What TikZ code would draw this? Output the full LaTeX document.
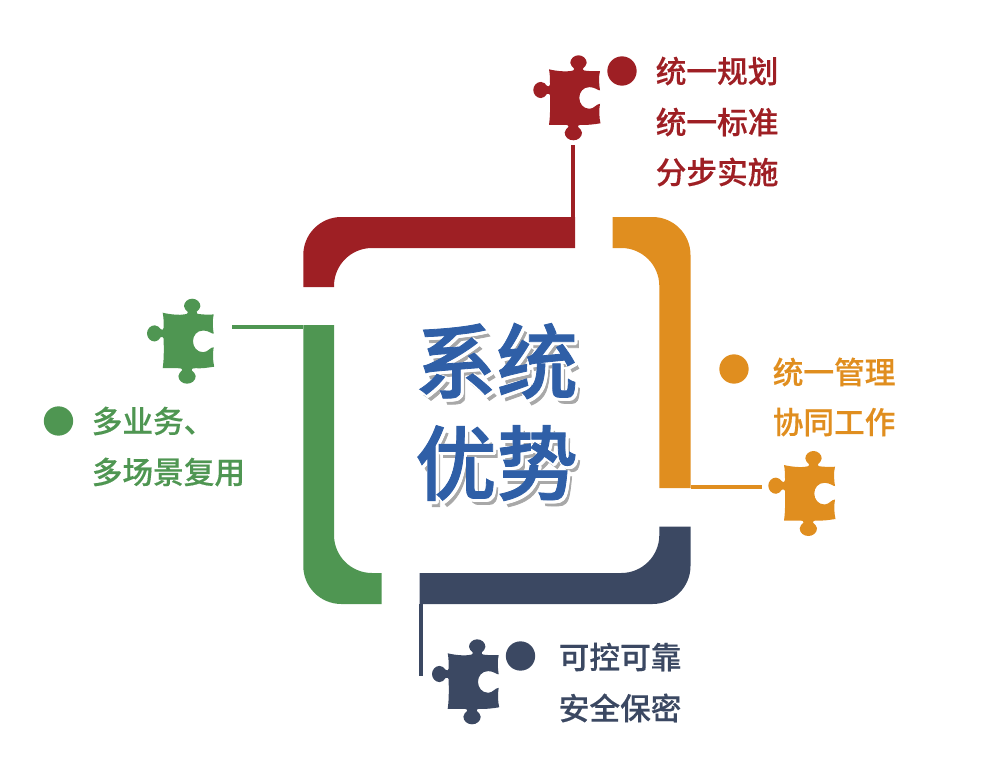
\documentclass[tikz,border=0pt]{standalone}
\usepackage{fontspec}
\setmainfont{Noto Sans CJK SC}
\newfontfamily\cjkb[FakeBold=0.35]{Noto Sans CJK SC Medium}
\newfontfamily\cjkt[FakeBold=1.0]{Noto Sans CJK SC Medium}
\definecolor{cred}{HTML}{9E1F24}
\definecolor{corange}{HTML}{E08E1F}
\definecolor{cgreen}{HTML}{4F9652}
\definecolor{cnavy}{HTML}{3B4862}
\definecolor{cblue}{HTML}{2F5FA7}
\definecolor{cshadow}{HTML}{A8A8A8}
\tikzset{
  lab/.style={font=\cjkb\fontsize{23}{28}\selectfont,anchor=west,inner sep=0pt},
  dotm/.style={circle,inner sep=0pt,minimum size=22pt},
  title/.style={font=\cjkt\fontsize{61}{72}\selectfont,inner sep=0pt,anchor=center},
  conn/.style={line width=3pt},
  puzzle/.pic={
    \fill (0,0) .. controls (8,2) and (18,2.5) .. (21.5,1.7)
      .. controls (25,1.5) and (25.5,0) .. (25,-1)
      .. controls (23.5,-2.5) and (21.3,-4) .. (21.3,-6.5)
      .. controls (21.3,-10.5) and (25,-14) .. (29.5,-14)
      .. controls (34,-14) and (37.7,-10.5) .. (37.7,-6.5)
      .. controls (37.7,-4) and (35.5,-2.5) .. (34,-1)
      .. controls (33.5,0) and (34,1.5) .. (37.5,1.5)
      .. controls (42,2) and (48,2) .. (51,1.7)
      .. controls (49.5,8) and (50,15) .. (51,21)
      .. controls (49.5,21.5) and (46,17.8) .. (40.5,17.8)
      .. controls (34,17.8) and (30.3,23) .. (30.3,28.5)
      .. controls (30.3,34) and (34,39.5) .. (40.5,39.5)
      .. controls (45,39.5) and (47.5,34.5) .. (51,34.5)
      .. controls (50,40) and (50,48) .. (51.5,54)
      .. controls (45,55) and (38,56) .. (33,55.5)
      .. controls (29.5,55.5) and (28.5,56.5) .. (29,57.5)
      .. controls (30.5,59) and (33,61) .. (33,63.3)
      .. controls (33,67.8) and (29,71) .. (24.3,71)
      .. controls (19.7,71) and (15.7,67.8) .. (15.7,63.3)
      .. controls (15.7,61) and (18,59) .. (19.5,57.5)
      .. controls (20,56.5) and (19,55.5) .. (15,55.5)
      .. controls (10,55.5) and (5,55.5) .. (0,55.5)
      .. controls (1.5,45) and (1,35) .. (1,26)
      .. controls (1,24.5) and (-0.5,24) .. (-2,24.5)
      .. controls (-3.5,27) and (-5.5,28.8) .. (-8,28.8)
      .. controls (-12.3,28.8) and (-15.7,25) .. (-15.7,20.7)
      .. controls (-15.7,16.4) and (-12.3,12.6) .. (-8,12.6)
      .. controls (-5.5,12.6) and (-3.5,14.5) .. (-2,16.5)
      .. controls (-0.5,17.5) and (1,17.5) .. (1,15)
      .. controls (1,10) and (1,5) .. (0,0) -- cycle;
  }
}
\newcommand{\titletxt}[3]{%
  \node[title,text=cshadow] at (#1+4.5,#2+6) {#3};
  \foreach \dx/\dy in {1/1,2/2,3/2,1/3,2/3,0/2,2/0,3/1}{
    \node[title,text=white] at (#1+\dx,#2+\dy) {#3};}
  \node[title,text=cblue] (#3) at (#1,#2) {#3};}
\begin{document}
\begin{tikzpicture}[x=0.75pt,y=-0.75pt]
\useasboundingbox (0,0) rectangle (1000,760);
% bands
\fill[cred] (303.3,287) -- (303.3,255) arc[start angle=180,end angle=90,x radius=38,y radius=-38] -- (575,217) -- (575,248) -- (372,248)
  arc[start angle=90,end angle=180,x radius=38,y radius=-38] -- (334,287) -- cycle;
\fill[corange] (612.7,217) -- (652.5,217) arc[start angle=90,end angle=0,x radius=38,y radius=-38] -- (690.5,488) -- (659.3,488) -- (659.3,286)
  arc[start angle=0,end angle=90,x radius=38,y radius=-38] -- (612.7,248) -- cycle;
\fill[cgreen] (303.3,325) -- (334,325) -- (334,535) arc[start angle=180,end angle=270,x radius=38,y radius=-38] -- (381.7,573) -- (381.7,604) -- (341.3,604)
  arc[start angle=270,end angle=180,x radius=38,y radius=-38] -- cycle;
\fill[cnavy] (690.5,526.7) -- (690.5,566) arc[start angle=0,end angle=-90,x radius=38,y radius=-38] -- (419.5,604) -- (419.5,573) -- (621.3,573)
  arc[start angle=-90,end angle=0,x radius=38,y radius=-38] -- (659.3,526.7) -- cycle;
% puzzles
\path[fill=cred] pic[fill=cred] at (549,69.3) {puzzle};
\path[fill=cgreen] pic[fill=cgreen] at (162.7,312.7) {puzzle};
\path[fill=corange] pic[fill=corange] at (784,465) {puzzle};
\path[fill=cnavy] pic[fill=cnavy] at (447.7,653.3) {puzzle};
% connectors
\coordinate (r1) at (573,145); \coordinate (r2) at (573,217);
\draw[conn,cred] (r1) -- (r2);
\coordinate (g1) at (232,327); \coordinate (g2) at (303.3,327);
\draw[conn,cgreen] (g1) -- (g2);
\coordinate (o1) at (690.5,486.5); \coordinate (o2) at (762,486.5);
\draw[conn,corange] (o1) -- (o2);
\coordinate (n1) at (421.3,604); \coordinate (n2) at (421.3,676);
\draw[conn,cnavy] (n1) -- (n2);
% dots
\node[dotm,fill=cred] (dr) at (622,71) {};
\node[dotm,fill=corange] (do) at (734,369) {};
\node[dotm,fill=cgreen] (dg) at (58.5,421) {};
\node[dotm,fill=cnavy] (dn) at (520.5,656) {};
% labels
\node[lab,text=cred] (lr1) at (655.5,71) {统一规划};
\node[lab,text=cred] (lr2) at (655.5,122) {统一标准};
\node[lab,text=cred] (lr3) at (655.5,172) {分步实施};
\node[lab,text=corange] (lo1) at (772.5,372) {统一管理};
\node[lab,text=corange] (lo2) at (772.5,422) {协同工作};
\node[lab,text=cgreen] (lg1) at (91.5,421) {多业务、};
\node[lab,text=cgreen] (lg2) at (91.5,472) {多场景复用};
\node[lab,text=cnavy] (ln1) at (558.5,657) {可控可靠};
\node[lab,text=cnavy] (ln2) at (558.5,708) {安全保密};
% title
\titletxt{496.5}{361}{系统}
\titletxt{496.5}{463}{优势}
\end{tikzpicture}
\end{document}
